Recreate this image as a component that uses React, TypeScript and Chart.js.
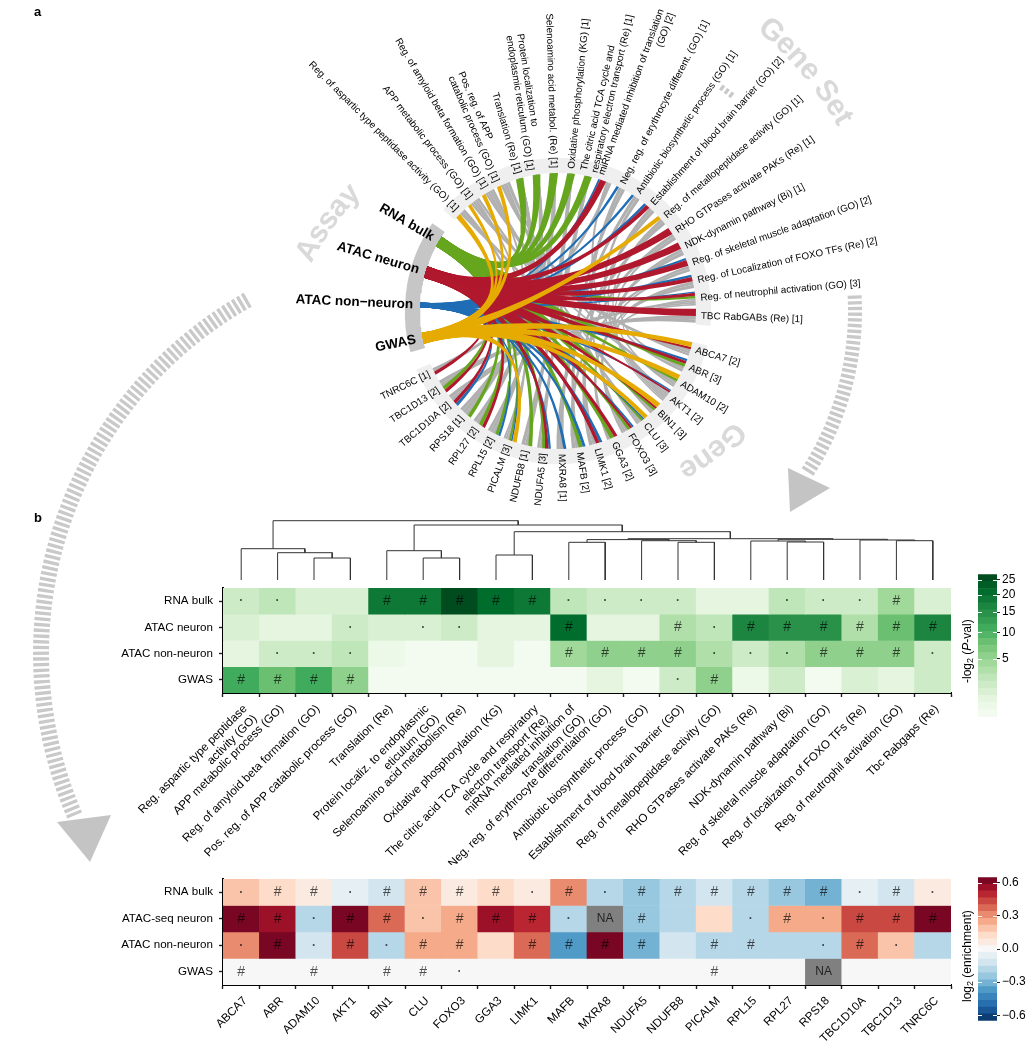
import React, { useEffect, useRef } from "react";
import { Chart, registerables } from "chart.js";

Chart.register(...registerables);

const FONT = '"Liberation Sans", Arial, sans-serif';

// ---------- panel b data ----------
const heatRowsB = ["RNA bulk", "ATAC neuron", "ATAC non-neuron", "GWAS"];
const termLabels = [
  ["Reg. aspartic type peptidase", "activity (GO)"],
  "APP metabolic process (GO)",
  "Reg. of amyloid beta formation (GO)",
  "Pos. reg. of APP catabolic process (GO)",
  "Translation (Re)",
  ["Protein localiz. to endoplasmic", "eticulum (GO)"],
  "Selenoamino acid metabolism (Re)",
  "Oxidative phosphorylation (KG)",
  ["The citric acid TCA cycle and respiratory", "electron transport (Re)"],
  ["miRNA mediated inhibition of", "translation (GO)"],
  "Neg. reg. of erythrocyte differentiation (GO)",
  "Antibiotic biosynthetic process (GO)",
  "Establishment of blood brain barrier (GO)",
  "Reg. of metallopeptidase activity (GO)",
  "RHO GTPases activate PAKs (Re)",
  "NDK-dynamin pathway (Bi)",
  "Reg. of skeletal muscle adaptation (GO)",
  "Reg. of localization of FOXO TFs (Re)",
  "Reg. of neutrophil activation (GO)",
  "Tbc Rabgaps (Re)",
];
const pRnaBulk = [1.5, 2.3, 1.3, 1.1, 19, 19.5, 25.5, 20, 18.5, 2.5, 2, 1.9, 1.5, 0.85, 0.9, 2.3, 1.9, 1.5, 4.4, 1.3];
const pAtacNeuron = [1.3, 0.8, 0.65, 2, 1.2, 1.4, 1.5, 0.75, 0.85, 20.5, 0.9, 0.65, 2.9, 2.4, 16, 15.5, 15.5, 3.4, 8, 16];
const pAtacNonNeuron = [0.85, 1.5, 2, 2.4, 0.45, 0.2, 0.2, 0.5, 0.2, 4, 6, 6, 6, 3, 2.1, 2.9, 5.5, 5.6, 6, 1.8];
const pGwas = [11, 7.3, 11.5, 5.5, 0.2, 0.2, 0.2, 0.2, 0.2, 0.2, 0.65, 0.2, 1.5, 5, 0.45, 1.5, 0.1, 1.2, 0.85, 1.5];
const sigRnaBulk = [".", ".", "", "", "#", "#", "#", "#", "#", ".", ".", ".", ".", "", "", ".", ".", ".", "#", ""];
const sigAtacNeuron = ["", "", "", ".", "", ".", ".", "", "", "#", "", "", "#", ".", "#", "#", "#", "#", "#", "#"];
const sigAtacNonNeuron = ["", ".", ".", ".", "", "", "", "", "", "#", "#", "#", "#", ".", ".", ".", "#", "#", "#", "."];
const sigGwas = ["#", "#", "#", "#", "", "", "", "", "", "", "", "", ".", "#", "", "", "", "", "", ""];

// dendrogram: nodes 0-19 are the columns, 20+ are the merges in order
const mergeLeft = [2, 1, 0, 5, 4, 7, 9, 12, 11, 26, 15, 14, 18, 17, 31, 29, 25, 24, 22];
const mergeRight = [3, 20, 21, 6, 23, 8, 10, 13, 27, 28, 16, 30, 19, 32, 33, 34, 35, 36, 37];
const mergeHeight = [22, 27.3, 31.3, 22, 29.3, 25, 37.7, 37.7, 39.3, 40.4, 38, 39, 39.3, 40, 40.7, 41.3, 48.3, 55, 59.3];

// ---------- panel c data ----------
const heatRowsC = ["RNA bulk", "ATAC-seq neuron", "ATAC non-neuron", "GWAS"];
const genes = ["ABCA7", "ABR", "ADAM10", "AKT1", "BIN1", "CLU", "FOXO3", "GGA3", "LIMK1", "MAFB", "MXRA8", "NDUFA5", "NDUFB8", "PICALM", "RPL15", "RPL27", "RPS18", "TBC1D10A", "TBC1D13", "TNRC6C"];
const eRnaBulk = [0.17, 0.1, 0.09, -0.07, -0.13, 0.18, 0.07, 0.12, 0.09, 0.34, -0.18, -0.25, -0.2, -0.11, -0.2, -0.27, -0.32, -0.09, -0.11, 0.08];
const eAtacNeuron = [0.65, 0.57, -0.2, 0.63, 0.39, 0.2, 0.26, 0.55, 0.5, -0.19, null, -0.25, -0.19, 0.13, -0.2, 0.27, 0.25, 0.42, 0.43, 0.6];
const eAtacNonNeuron = [0.3, 0.6, -0.13, 0.46, -0.16, 0.24, 0.27, 0.13, 0.36, -0.34, 0.6, -0.29, -0.12, -0.2, -0.2, -0.18, -0.18, 0.39, 0.19, -0.17];
const eGwas = [0, 0, 0, 0, 0, 0, 0, 0, 0, 0, 0, 0, 0, 0, 0, 0, null, 0, 0, 0];
const gRnaBulk = [".", "#", "#", ".", "#", "#", "#", "#", ".", "#", ".", "#", "#", "#", "#", "#", "#", ".", "#", "."];
const gAtacNeuron = ["#", "#", ".", "#", "#", ".", "#", "#", "#", ".", "NA", "#", "", "", ".", "#", ".", "#", "#", "#"];
const gAtacNonNeuron = [".", "#", ".", "#", ".", "#", "#", "", "#", "#", "#", "#", "", "#", "#", "", ".", "#", ".", ""];
const gGwas = ["#", "", "#", "", "#", "#", ".", "", "", "", "", "", "", "#", "", "", "NA", "", "", ""];

// ---------- panel a data ----------
const assayNames = ["RNA bulk", "ATAC neuron", "ATAC non\u2212neuron", "GWAS"];
const geneSetLabels = [
  ["Reg. of aspartic type peptidase activity (GO) [1]"],
  ["APP metabolic process (GO) [1]"],
  ["Reg. of amyloid beta formation (GO) [1]"],
  ["Pos. reg. of APP", "catabolic process (GO) [1]"],
  ["Translation (Re) [1]"],
  ["Protein localization to", "endoplasmic reticulum (GO) [1]"],
  ["Selenoamino acid metabol. (Re) [1]"],
  ["Oxidative phosphorylation (KG) [1]"],
  ["The citric acid TCA cycle and", "respiratory electron transport (Re) [1]"],
  ["miRNA mediated inhibition of translation", "(GO) [2]"],
  ["Neg. reg. of erythrocyte different. (GO) [1]"],
  ["Antibiotic biosynthetic process (GO) [1]"],
  ["Establishment of blood brain barrier (GO) [2]"],
  ["Reg. of metallopeptidase activity (GO) [1]"],
  ["RHO GTPases activate PAKs (Re) [1]"],
  ["NDK-dynamin pathway (Bi) [1]"],
  ["Reg. of skeletal muscle adaptation (GO) [2]"],
  ["Reg. of Localization of FOXO TFs (Re) [2]"],
  ["Reg. of neutrophil activation (GO) [3]"],
  ["TBC RabGABs (Re) [1]"],
];
const geneCounts = [2, 3, 2, 2, 3, 3, 3, 2, 2, 2, 1, 3, 1, 3, 2, 2, 1, 2, 2, 1];
const geneSetMembers = [
  ["BIN1", "PICALM"],
  ["ABCA7", "ADAM10", "PICALM", "CLU"],
  ["ABCA7", "BIN1", "CLU", "PICALM"],
  ["ABCA7", "CLU", "ADAM10"],
  ["RPS18", "RPL15", "RPL27"],
  ["RPS18", "RPL15", "RPL27"],
  ["RPS18", "RPL15"],
  ["NDUFA5", "NDUFB8"],
  ["NDUFA5", "NDUFB8"],
  ["AKT1", "TNRC6C"],
  ["FOXO3", "MAFB"],
  ["MXRA8", "AKT1"],
  ["AKT1", "LIMK1"],
  ["ADAM10", "MXRA8"],
  ["LIMK1", "AKT1"],
  ["AKT1", "ABR"],
  ["MAFB", "FOXO3"],
  ["FOXO3", "AKT1"],
  ["GGA3", "TBC1D10A", "TBC1D13", "ABR"],
  ["TBC1D10A", "TBC1D13"],
];
const setsWithGrayUnderGreen = [4, 5, 6, 7, 8];

// ---------- colours ----------
const assayColors = ["#66a61e", "#b0182e", "#1f6db5", "#e6ab02"];
const grayLink = "#b0b0b0";
const greensStops = ["#f7fcf5", "#e5f5e0", "#c7e9c0", "#a1d99b", "#74c476", "#41ab5d", "#238b45", "#006d2c", "#00441b"];
const rdbuStops = ["#053061", "#2166ac", "#4393c3", "#92c5de", "#d1e5f0", "#f7f7f7", "#fddbc7", "#f4a582", "#d6604d", "#b2182b", "#67001f"];
const greensBarEdges = [0.2, 0.45, 0.7, 0.95, 1.2, 1.45, 1.7, 1.95, 2.2, 2.45, 2.7, 2.95, 3.2, 3.45, 3.7, 3.95, 4.2, 4.45, 4.7, 4.95, 5.2];
const rdbuBarEdges = [-0.65, -0.588, -0.526, -0.464, -0.402, -0.34, -0.278, -0.216, -0.154, -0.092, -0.03, 0.03, 0.092, 0.154, 0.216, 0.278, 0.34, 0.402, 0.464, 0.526, 0.588, 0.65];
const greensBarTicks = [5, 10, 15, 20, 25];
const rdbuBarTicks = [-0.6, -0.3, 0, 0.3, 0.6];

function hex(c: string) {
  return [1, 3, 5].map((i) => parseInt(c.slice(i, i + 2), 16));
}
function ramp(stops: string[], t: number) {
  const u = Math.max(0, Math.min(0.99999, t)) * (stops.length - 1);
  const i = Math.floor(u);
  const f = u - i;
  const a = hex(stops[i]);
  const b = hex(stops[i + 1]);
  return `rgb(${a.map((v, k) => Math.round(v + (b[k] - v) * f)).join(",")})`;
}
function binMid(edges: number[], v: number) {
  for (let i = 0; i < edges.length - 1; i++) if (v <= edges[i + 1]) return (edges[i] + edges[i + 1]) / 2;
  return (edges[edges.length - 2] + edges[edges.length - 1]) / 2;
}
const greenOf = (sq: number) => ramp(greensStops, (sq - 0.2) / 5);
const rdbuOf = (v: number) => ramp(rdbuStops, (v + 0.65) / 1.3);
const greenCell = (v: number) => greenOf(binMid(greensBarEdges, Math.sqrt(v)));
const rdbuCell = (v: number | null) => (v === null ? "#808080" : rdbuOf(binMid(rdbuBarEdges, v)));

// ---------- chord geometry ----------
const CX = 558;
const CY = 311;
const RPX = 138;
const CANVAS_A_H = 870;
const DEG = Math.PI / 180;
const pxToDeg = 180 / Math.PI / RPX;
const assayAngle = (i: number) => 149.7 + i * 13.9;
const setAngle = (i: number) => 135 - i * 7.21;
const geneAngle = (i: number) => -16 - i * 7.26;
const polar = (deg: number, r: number) => ({ x: r * Math.cos(deg * DEG), y: r * Math.sin(deg * DEG) });
const fromPx = (x: number, y: number) => ({ x: (x - CX) / RPX, y: (CY - y) / RPX });

function shape(points: any[], color: string) {
  return { data: points, showLine: true, fill: "shape", backgroundColor: color, borderWidth: 0, borderColor: color, pointRadius: 0, tension: 0, clip: false };
}
function arcBand(a1: number, a2: number, r1: number, r2: number, color: string) {
  const n = 50;
  const pts: any[] = [];
  for (let i = 0; i <= n; i++) pts.push(polar(a1 + ((a2 - a1) * i) / n, r2));
  for (let i = n; i >= 0; i--) pts.push(polar(a1 + ((a2 - a1) * i) / n, r1));
  pts.push(pts[0]);
  return shape(pts, color);
}
function bez(p0: any, c: any, p1: any, t: number) {
  const u = 1 - t;
  return { x: u * u * p0.x + 2 * u * t * c.x + t * t * p1.x, y: u * u * p0.y + 2 * u * t * c.y + t * t * p1.y };
}
function ribbon(a: number, aw: number, b: number, bw: number, color: string, ctrl: any) {
  const ha = (aw / 2) * pxToDeg;
  const hb = (bw / 2) * pxToDeg;
  const n = 22;
  const pts: any[] = [];
  const A1 = polar(a - ha, 1);
  const B1 = polar(b + hb, 1);
  const B2 = polar(b - hb, 1);
  const A2 = polar(a + ha, 1);
  // keep the band open through the middle: the two edges bend round two control points
  const Am = polar(a, 1);
  const Bm = polar(b, 1);
  const dx = Bm.x - Am.x;
  const dy = Bm.y - Am.y;
  const len = Math.hypot(dx, dy) || 1;
  const nx = -dy / len;
  const ny = dx / len;
  const sideDot = (A1.x + B1.x - A2.x - B2.x) * nx + (A1.y + B1.y - A2.y - B2.y) * ny;
  const s = sideDot >= 0 ? 1 : -1;
  const off = (0.25 * bw) / RPX;
  const c1 = { x: ctrl.x + nx * s * off, y: ctrl.y + ny * s * off };
  const c2 = { x: ctrl.x - nx * s * off, y: ctrl.y - ny * s * off };
  for (let i = 0; i <= n; i++) pts.push(bez(A1, c1, B1, i / n));
  for (let i = 0; i <= n; i++) pts.push(bez(B2, c2, A2, i / n));
  pts.push(pts[0]);
  return shape(pts, color);
}
function allocate(slots: any[], center: number, maxW: number) {
  const visible = slots.filter((s) => !s.hidden);
  const total = visible.reduce((t, s) => t + s.w, 0);
  const k = Math.min(1, maxW / total);
  let cur = center + (total * k * pxToDeg) / 2;
  visible.forEach((s) => {
    s.w *= k;
    s.angle = cur - (s.w * pxToDeg) / 2;
    cur -= s.w * pxToDeg;
  });
  slots.filter((s) => s.hidden).forEach((s) => {
    s.angle = center;
  });
}
function buildChordDatasets() {
  const pValues = [pRnaBulk, pAtacNeuron, pAtacNonNeuron, pGwas];
  const pSig = [sigRnaBulk, sigAtacNeuron, sigAtacNonNeuron, sigGwas];
  const gSig = [gRnaBulk, gAtacNeuron, gAtacNonNeuron, gGwas];
  const assayEndWidth = [11, 12, 5, 11];
  const setScale = [1, 1, 0.5, 0.85];
  const geneWidth = [4, 3.6, 3, 8];
  const paintOrder = [0, 2, 1, 3];
  const setSlots: any[][] = geneSetLabels.map(() => []);
  const geneSlots: any[][] = genes.map(() => []);
  const colored: any[] = [[], [], [], []];
  geneSetLabels.forEach((_, s) => {
    [3, 2, 1, 0].forEach((a) => {
      if (pSig[a][s] === "#") {
        const slot = { w: (2 + 1.3 * Math.sqrt(pValues[a][s])) * setScale[a] };
        setSlots[s].push(slot);
        colored[a].push(slot);
      }
    });
  });
  genes.forEach((_, g) => {
    [3, 2, 1, 0].forEach((a) => {
      if (gSig[a][g] === "#") {
        const slot = { w: geneWidth[a] };
        geneSlots[g].push(slot);
        colored[a].push(slot);
      }
    });
  });
  const grays: any[] = [];
  geneSetMembers.forEach((members, s) => {
    members.forEach((name) => {
      const hidden = setsWithGrayUnderGreen.includes(s);
      const sSlot = { w: hidden ? 4 : 3.4, hidden };
      const gSlot = { w: 3.6 };
      setSlots[s].push(sSlot);
      geneSlots[genes.indexOf(name)].push(gSlot);
      grays.push([sSlot, gSlot]);
    });
  });
  setSlots.forEach((slots, s) => allocate(slots, setAngle(s), 14));
  geneSlots.forEach((slots, g) => allocate(slots, geneAngle(g), 14));
  // painted back to front below; Chart.js draws the first dataset last, so the list is reversed at the end
  const ds: any[] = [];
  ds.push(arcBand(setAngle(0) + 3.6, setAngle(19) - 3.6, 1, 1.11, "#efefef"));
  ds.push(arcBand(geneAngle(0) + 3, geneAngle(19) - 3.6, 1, 1.11, "#efefef"));
  ds.push(arcBand(assayAngle(0) - 4.6, assayAngle(3) + 4.2, 1, 1.11, "#c6c6c6"));
  grays.forEach(([a, b]) => ds.push(ribbon(a.angle, a.w, b.angle, b.w, grayLink, { x: 0, y: 0 })));
  const ctrl = { x: -0.12, y: 0 };
  paintOrder.forEach((a) => {
    colored[a].forEach((slot: any) => ds.push(ribbon(assayAngle(a), assayEndWidth[a], slot.angle, slot.w, assayColors[a], ctrl)));
  });
  // hatched arrows
  const hatch = (cx: number, cy: number, r: number, a1: number, a2: number, width: number) => {
    const n = 60;
    const pts: any[] = [];
    for (let i = 0; i <= n; i++) {
      const t = (a1 + ((a2 - a1) * i) / n) * DEG;
      pts.push(fromPx(cx + r * Math.cos(t), cy - r * Math.sin(t)));
    }
    return { data: pts, showLine: true, borderColor: "#c9c9c9", borderWidth: width, borderDash: [3.3, 2.4], pointRadius: 0, fill: false, clip: false, borderCapStyle: "butt" };
  };
  ds.push(hatch(447, 653.5, 406, 119.4, 203.5, 16));
  ds.push(hatch(558, 311, 297, 3, -33, 14));
  ds.push(hatch(558, 311, 277, 54, 50.5, 6));
  ds.push(shape([fromPx(57, 822), fromPx(111, 815), fromPx(90, 862), fromPx(57, 822)], "#c4c4c4"));
  ds.push(shape([fromPx(788, 468), fromPx(830, 488), fromPx(790, 512), fromPx(788, 468)], "#c4c4c4"));
  return ds.reverse();
}

function radialText(ctx: any, chart: any, deg: number, rPx: number, lines: string[], font: string, color: string, lineH: number) {
  let d = ((deg + 180) % 360 + 360) % 360 - 180;
  const sx = chart.scales.x;
  const sy = chart.scales.y;
  const p = polar(deg, rPx / RPX);
  const rightSide = Math.abs(d) <= 90;
  ctx.save();
  ctx.translate(sx.getPixelForValue(p.x), sy.getPixelForValue(p.y));
  ctx.rotate(((rightSide ? -d : 180 - d) * Math.PI) / 180);
  ctx.font = font;
  ctx.fillStyle = color;
  ctx.textBaseline = "middle";
  ctx.textAlign = "left";
  const widths = lines.map((l) => ctx.measureText(l).width);
  const block = Math.max(...widths);
  lines.forEach((l, i) => {
    const y = (i - (lines.length - 1) / 2) * lineH;
    let x = rightSide ? 0 : -block;
    if (rightSide && l.startsWith("(GO) [2]")) x = block - widths[i];
    ctx.fillText(l, x, y);
  });
  ctx.restore();
}
function arcTitle(ctx: any, text: string, cx: number, cy: number, r: number, thetaMid: number) {
  ctx.save();
  ctx.font = `bold 30px ${FONT}`;
  ctx.fillStyle = "#d9d9d9";
  ctx.textAlign = "center";
  ctx.textBaseline = "middle";
  const total = ctx.measureText(text).width;
  let th = thetaMid * DEG + total / 2 / r;
  for (const ch of text) {
    const w = ctx.measureText(ch).width;
    const a = th - w / 2 / r;
    ctx.save();
    ctx.translate(cx + r * Math.cos(a), cy - r * Math.sin(a));
    ctx.rotate(Math.PI / 2 - a);
    ctx.fillText(ch, 0, 0);
    ctx.restore();
    th -= w / r;
  }
  ctx.restore();
}
const chordTextPlugin = {
  id: "chordText",
  afterDatasetsDraw(chart: any) {
    const ctx = chart.ctx;
    arcTitle(ctx, "Assay", 529, 369, 250, 144);
    arcTitle(ctx, "Gene Set", 544, 291, 345, 40);
    arcTitle(ctx, "Gene", 583, 287, 210, -51.8);
    assayNames.forEach((n, i) => radialText(ctx, chart, assayAngle(i), 145, [n], `bold 13.5px ${FONT}`, "#000", 15));
    geneSetLabels.forEach((l, i) => radialText(ctx, chart, setAngle(i), 143, l, `9.9px ${FONT}`, "#000", 11));
    genes.forEach((g, i) => radialText(ctx, chart, geneAngle(i), 143, [`${g} [${geneCounts[i]}]`], `9.9px ${FONT}`, "#000", 11));
    ctx.save();
    ctx.font = `bold 13px ${FONT}`;
    ctx.fillStyle = "#000";
    ctx.textAlign = "left";
    ctx.textBaseline = "middle";
    ctx.fillText("a", 34, 12);
    ctx.fillText("b", 34, 518);
    ctx.fillText("c", 34, 882);
    ctx.restore();
  },
};

// ---------- shared heatmap bits ----------
function markPlugin(id: string) {
  return {
    id,
    afterDatasetsDraw(chart: any) {
      const ctx = chart.ctx;
      ctx.save();
      ctx.textAlign = "center";
      ctx.textBaseline = "middle";
      chart.data.datasets.forEach((ds: any, di: number) => {
        const meta = chart.getDatasetMeta(di);
        meta.data.forEach((bar: any, i: number) => {
          const m = ds.marks[i];
          if (!m) return;
          const c = bar.getCenterPoint();
          ctx.fillStyle = m === "NA" ? "rgba(0,0,0,0.75)" : "rgba(0,0,0,0.68)";
          ctx.font = m === "#" ? `14px ${FONT}` : m === "NA" ? `12px ${FONT}` : `bold 12px ${FONT}`;
          ctx.fillText(m === "." ? "\u00b7" : m, c.x, c.y);
        });
      });
      ctx.restore();
    },
  };
}
function heatmapConfig(labels: any[], rows: string[], values: any[][], marks: string[][], colorOf: any, xAxisH: number, pluginId: string) {
  return {
    type: "bar",
    data: {
      labels,
      datasets: rows.map((r, ri) => ({
        label: r,
        data: values[ri].map(() => [ri, ri + 1]),
        backgroundColor: values[ri].map(colorOf),
        marks: marks[ri],
        grouped: false,
        barPercentage: 1,
        categoryPercentage: 1,
        borderWidth: 0,
      })),
    },
    plugins: [markPlugin(pluginId)],
    options: {
      animation: false,
      responsive: false,
      events: [],
      layout: { padding: { top: 10, right: 82, left: 0, bottom: 0 } },
      plugins: { legend: { display: false }, tooltip: { enabled: false } },
      scales: {
        x: {
          type: "category",
          afterFit: (s: any) => {
            s.height = xAxisH;
          },
          border: { display: true, color: "#000", width: 2 },
          grid: { display: true, drawOnChartArea: false, drawTicks: true, tickLength: 4, tickColor: "#222", tickWidth: 1.4 },
          ticks: { autoSkip: false, maxRotation: 45, minRotation: 45, font: { family: FONT, size: 11.7 }, color: "#000", padding: 5, labelOffset: 4 },
        },
        y: {
          type: "linear",
          min: 0,
          max: 4,
          reverse: true,
          afterFit: (s: any) => {
            s.width = 223;
          },
          afterBuildTicks: (s: any) => {
            s.ticks = [0.5, 1.5, 2.5, 3.5].map((value) => ({ value }));
          },
          border: { display: true, color: "#000", width: 2 },
          grid: { display: true, drawOnChartArea: false, drawTicks: true, tickLength: 4, tickColor: "#222", tickWidth: 1.4 },
          ticks: { autoSkip: false, font: { family: FONT, size: 11.6 }, color: "#000", padding: 6, callback: (v: number) => rows[Math.floor(v)] },
        },
      },
    },
  };
}
function colorbarConfig(edges: number[], colorOf: any, tickVals: number[], tickText: any, tickLabel: any, titleSegs: any[], titleY: number) {
  return {
    type: "bar",
    data: {
      labels: ["scale"],
      datasets: edges.slice(0, -1).map((lo, i) => ({
        data: [[lo, edges[i + 1]]],
        backgroundColor: colorOf((lo + edges[i + 1]) / 2),
        grouped: false,
        barPercentage: 1,
        categoryPercentage: 1,
        borderWidth: 0,
      })),
    },
    plugins: [
      {
        id: "cbMarks",
        afterDatasetsDraw(chart: any) {
          const { ctx, chartArea: a, scales } = chart;
          ctx.save();
          ctx.strokeStyle = "#fff";
          ctx.lineWidth = 1;
          tickVals.forEach((t) => {
            const y = Math.round(scales.y.getPixelForValue(tickText(t))) + 0.5;
            ctx.beginPath();
            ctx.moveTo(a.left, y);
            ctx.lineTo(a.left + 4, y);
            ctx.moveTo(a.right - 4, y);
            ctx.lineTo(a.right, y);
            ctx.stroke();
          });
          // axis title with a subscript and italics
          ctx.translate(a.left - 10, titleY);
          ctx.rotate(-Math.PI / 2);
          ctx.textBaseline = "middle";
          ctx.fillStyle = "#000";
          let x = 0;
          titleSegs.forEach((seg) => {
            ctx.font = seg.font;
            ctx.fillText(seg.text, x, seg.dy);
            x += ctx.measureText(seg.text).width;
          });
          ctx.restore();
        },
      },
    ],
    options: {
      animation: false,
      responsive: false,
      events: [],
      layout: { padding: { top: 8, bottom: 8, left: 38, right: 0 } },
      plugins: { legend: { display: false }, tooltip: { enabled: false } },
      scales: {
        x: { display: false },
        y: {
          type: "linear",
          position: "right",
          min: edges[0],
          max: edges[edges.length - 1],
          afterFit: (s: any) => {
            s.width = 36;
          },
          afterBuildTicks: (s: any) => {
            s.ticks = tickVals.map((t) => ({ value: tickText(t) }));
          },
          border: { display: false },
          grid: { display: true, drawOnChartArea: false, drawTicks: true, tickLength: 3, tickColor: "#222" },
          ticks: { autoSkip: false, font: { family: FONT, size: 12 }, color: "#000", padding: 2, callback: tickLabel },
        },
      },
    },
  };
}

const canvasStyle = (left: number, top: number): React.CSSProperties => ({ position: "absolute", left, top, display: "block" });

export default function App() {
  const chordRef = useRef<HTMLCanvasElement>(null);
  const dendroRef = useRef<HTMLCanvasElement>(null);
  const heatBRef = useRef<HTMLCanvasElement>(null);
  const heatCRef = useRef<HTMLCanvasElement>(null);
  const barBRef = useRef<HTMLCanvasElement>(null);
  const barCRef = useRef<HTMLCanvasElement>(null);

  useEffect(() => {
    const charts: Chart[] = [];
    charts.push(
      new Chart(chordRef.current as any, {
        type: "scatter",
        data: { datasets: buildChordDatasets() },
        plugins: [chordTextPlugin],
        options: {
          animation: false,
          responsive: false,
          events: [],
          layout: { padding: 0 },
          plugins: { legend: { display: false }, tooltip: { enabled: false } },
          scales: {
            x: { type: "linear", display: false, min: -CX / RPX, max: (1033 - CX) / RPX },
            y: { type: "linear", display: false, min: (CY - CANVAS_A_H) / RPX, max: CY / RPX },
          },
        },
      } as any)
    );

    const nodeX: number[] = termLabels.map((_, i) => i);
    const nodeH: number[] = termLabels.map(() => 0);
    const dendroSets = mergeLeft.map((l, i) => {
      const r = mergeRight[i];
      const h = mergeHeight[i];
      const xl = nodeX[l];
      const xr = nodeX[r];
      const seg = [
        { x: xl, y: nodeH[l] },
        { x: xl, y: h },
        { x: xr, y: h },
        { x: xr, y: nodeH[r] },
      ];
      nodeX.push((xl + xr) / 2);
      nodeH.push(h);
      return { data: seg, showLine: true, borderColor: "#333", borderWidth: 1, pointRadius: 0, fill: false, clip: false };
    });
    charts.push(
      new Chart(dendroRef.current as any, {
        type: "scatter",
        data: { datasets: dendroSets },
        options: {
          animation: false,
          responsive: false,
          events: [],
          layout: { padding: 0 },
          plugins: { legend: { display: false }, tooltip: { enabled: false } },
          scales: {
            x: { type: "linear", display: false, min: -0.5, max: 19.5 },
            y: { type: "linear", display: false, min: 0, max: 70 },
          },
        },
      } as any)
    );

    charts.push(
      new Chart(
        heatBRef.current as any,
        heatmapConfig(termLabels, heatRowsB, [pRnaBulk, pAtacNeuron, pAtacNonNeuron, pGwas], [sigRnaBulk, sigAtacNeuron, sigAtacNonNeuron, sigGwas], greenCell, 172, "marksB") as any
      )
    );
    charts.push(
      new Chart(
        heatCRef.current as any,
        heatmapConfig(genes, heatRowsC, [eRnaBulk, eAtacNeuron, eAtacNonNeuron, eGwas], [gRnaBulk, gAtacNeuron, gAtacNonNeuron, gGwas], rdbuCell, 65, "marksC") as any
      )
    );
    charts.push(
      new Chart(
        barBRef.current as any,
        colorbarConfig(
          greensBarEdges,
          greenOf,
          greensBarTicks,
          (t: number) => Math.sqrt(t),
          (v: number) => String(Math.round(v * v)),
          [
            { text: "-log", font: `12px ${FONT}`, dy: 0 },
            { text: "2", font: `9px ${FONT}`, dy: 3 },
            { text: " (", font: `12px ${FONT}`, dy: 0 },
            { text: "P", font: `italic 12px ${FONT}`, dy: 0 },
            { text: "-val)", font: `12px ${FONT}`, dy: 0 },
          ],
          118
        ) as any
      )
    );
    charts.push(
      new Chart(
        barCRef.current as any,
        colorbarConfig(
          rdbuBarEdges,
          rdbuOf,
          rdbuBarTicks,
          (t: number) => t,
          (v: number) => (v < 0 ? "\u2212" : "") + Math.abs(v).toFixed(1),
          [
            { text: "log", font: `12px ${FONT}`, dy: 0 },
            { text: "2", font: `9px ${FONT}`, dy: 3 },
            { text: " (enrichment)", font: `12px ${FONT}`, dy: 0 },
          ],
          134
        ) as any
      )
    );
    return () => charts.forEach((c) => c.destroy());
  }, []);

  return (
    <div style={{ position: "absolute", left: 0, top: 0, width: 1033, height: 1050, background: "#fff", overflow: "hidden" }}>
      <canvas ref={heatBRef} width={1033} height={290} style={canvasStyle(0, 575)} />
      <canvas ref={heatCRef} width={1033} height={184} style={canvasStyle(0, 866)} />
      <canvas ref={chordRef} width={1033} height={CANVAS_A_H} style={canvasStyle(0, 0)} />
      <canvas ref={dendroRef} width={728} height={70} style={canvasStyle(223, 510)} />
      <canvas ref={barBRef} width={93} height={161} style={canvasStyle(940, 565)} />
      <canvas ref={barCRef} width={93} height={162} style={canvasStyle(940, 868)} />
    </div>
  );
}
